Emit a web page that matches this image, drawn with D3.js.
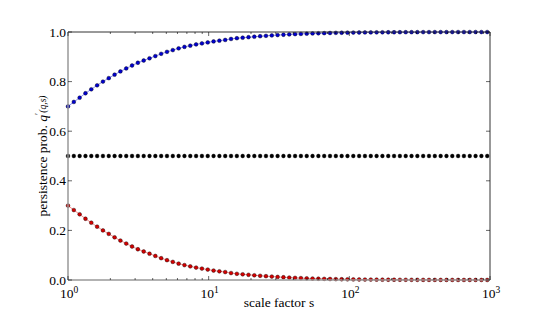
<!DOCTYPE html>
<html><head><meta charset="utf-8">
<script src="https://cdn.jsdelivr.net/npm/d3@7/dist/d3.min.js"></script>
<style>body{margin:0;background:#fff}svg{display:block}text{font-family:"Liberation Serif",serif;fill:#000}</style>
</head><body>
<svg id="c" width="545" height="312"></svg>
<script>
// scale factor s = 1.1^k, k = 0..72
const stepCount = 73;
const sValues = d3.range(stepCount).map(k => Math.pow(1.1, k));
const redValues = [0.300,0.282,0.265,0.247,0.231,0.215,0.200,0.186,0.172,0.159,0.147,0.135,0.124,0.115,0.106,0.097,0.088,0.080,0.073,0.066,0.060,0.055,0.050,0.046,0.042,0.038,0.035,0.032,0.028,0.025,0.023,0.021,0.019,0.017,0.0155,0.0138,0.0123,0.011,0.0097,0.0086,0.0076,0.0067,0.0059,0.0052,0.0046,0.0040,0.0035,0.0031,0.0027,0.0024,0.0021,0.0018,0.0016,0.0014,0.0012,0.0011,0.0010,0.0009,0.0008,0.0007,0.0006,0.0005,0.00045,0.0004,0.00035,0.0003,0.00027,0.00024,0.0002,0.00018,0.00016,0.00014,0.00012];
const blueValues = [0.700,0.718,0.735,0.753,0.769,0.785,0.800,0.814,0.828,0.841,0.853,0.865,0.876,0.885,0.894,0.903,0.912,0.920,0.927,0.934,0.940,0.945,0.950,0.954,0.958,0.962,0.965,0.968,0.972,0.975,0.977,0.979,0.981,0.983,0.9845,0.9862,0.9877,0.989,0.9903,0.9914,0.9924,0.9933,0.9941,0.9948,0.9954,0.9960,0.9965,0.9969,0.9973,0.9976,0.9979,0.9982,0.9984,0.9986,0.9988,0.9989,0.9990,0.9991,0.9992,0.9993,0.9994,0.9995,0.99955,0.9996,0.99965,0.9997,0.99973,0.99976,0.9998,0.99982,0.99984,0.99986,0.99988];
const blackValues = sValues.map(() => 0.5);
const yTicks = [0.0,0.2,0.4,0.6,0.8,1.0];
const xTicks = [1,10,100,1000];
const xTickExp = ["0","1","2","3"];

const svg = d3.select("#c");
const L=68, R=490, T=32, B=280;
const x = d3.scaleLog().domain([1,1000]).range([L,R]);
const y = d3.scaleLinear().domain([0,1]).range([B,T]);

const series = [
  {vals: redValues, line:"#ff8c8c", face:"#d40000", showLine:true},
  {vals: blueValues, line:"#8c8cff", face:"#0000d0", showLine:true},
  {vals: blackValues, line:null, face:"#000000", showLine:false}
];
const lineGen = d3.line().x(d=>x(d[0])).y(d=>y(d[1]));
series.forEach(s=>{
  const pts = sValues.map((v,i)=>[v,s.vals[i]]);
  if(s.showLine) svg.append("path").attr("d",lineGen(pts)).attr("fill","none").attr("stroke",s.line).attr("stroke-width",1);
  svg.append("g").selectAll("circle").data(pts).join("circle")
    .attr("cx",d=>x(d[0])).attr("cy",d=>y(d[1])).attr("r",1.9)
    .attr("fill",s.face).attr("stroke","#000").attr("stroke-width",0.4);
});

// frame
svg.append("line").attr("x1",L).attr("x2",R).attr("y1",T).attr("y2",T).attr("stroke","#333").attr("stroke-width",1);
svg.append("line").attr("x1",R).attr("x2",R).attr("y1",T).attr("y2",B).attr("stroke","#333").attr("stroke-width",1);
svg.append("line").attr("x1",L).attr("x2",R).attr("y1",B).attr("y2",B).attr("stroke","#999").attr("stroke-width",1.5);
svg.append("line").attr("x1",L).attr("x2",L).attr("y1",T).attr("y2",B).attr("stroke","#999").attr("stroke-width",1.5);

// x ticks
const minor=[];
for(let d=1; d<1000; d*=10) for(let m=2;m<10;m++) minor.push(d*m);
const tg = svg.append("g").attr("stroke","#000").attr("stroke-width",0.6);
xTicks.forEach(v=>{
  tg.append("line").attr("x1",x(v)).attr("x2",x(v)).attr("y1",B).attr("y2",B-4);
  tg.append("line").attr("x1",x(v)).attr("x2",x(v)).attr("y1",T).attr("y2",T+4);
});
minor.forEach(v=>{
  tg.append("line").attr("x1",x(v)).attr("x2",x(v)).attr("y1",B).attr("y2",B-2);
  tg.append("line").attr("x1",x(v)).attr("x2",x(v)).attr("y1",T).attr("y2",T+2);
});
yTicks.forEach(v=>{
  tg.append("line").attr("x1",L).attr("x2",L+4).attr("y1",y(v)).attr("y2",y(v));
  tg.append("line").attr("x1",R).attr("x2",R-4).attr("y1",y(v)).attr("y2",y(v));
});

// labels
xTicks.forEach((v,i)=>{
  const t = svg.append("text").attr("x",x(v)+1).attr("y",297.5).attr("text-anchor","middle").attr("font-size",13.5);
  t.append("tspan").text("10");
  t.append("tspan").attr("dy",-5).attr("font-size",9.5).text(xTickExp[i]);
});
yTicks.forEach(v=>{
  svg.append("text").attr("x",L-2).attr("y",y(v)+4.5).attr("text-anchor","end").attr("font-size",13.5).text(v.toFixed(1));
});
svg.append("text").attr("x",(L+R)/2).attr("y",306.5).attr("text-anchor","middle").attr("font-size",13.5).text("scale factor s");
const yl = svg.append("text").attr("transform","translate(47,156) rotate(-90)").attr("text-anchor","middle").attr("font-size",13.5);
yl.append("tspan").text("persistence prob. ");
yl.append("tspan").attr("font-style","italic").text("q");
yl.append("tspan").attr("dy",-5).attr("font-size",9.5).text("′");
yl.append("tspan").attr("dy",5).attr("font-size",1).text(" ");
yl.append("tspan").attr("dy",-1).attr("font-size",9.5).attr("font-style","italic").text("(q,s)");
</script>
</body></html>
